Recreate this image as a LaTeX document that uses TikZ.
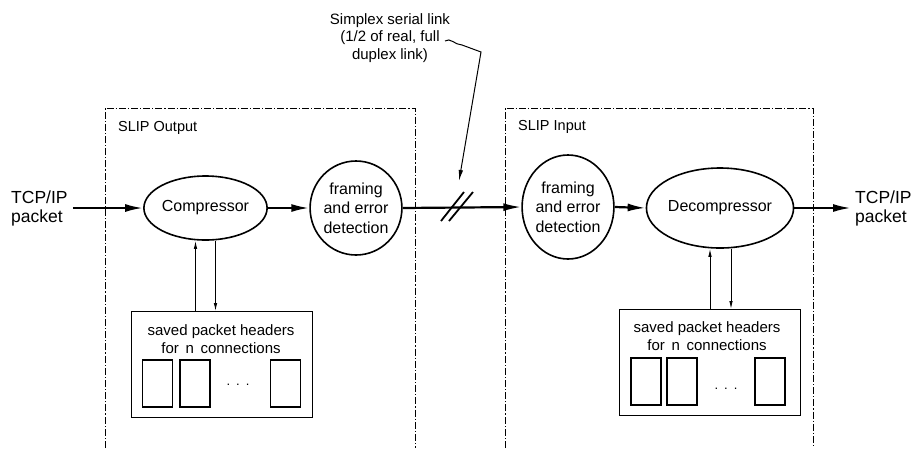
\documentclass[tikz,border=0pt]{standalone}
\usepackage{fontspec}
\setmainfont{Liberation Sans}
\usetikzlibrary{shapes.geometric,arrows.meta}

\begin{document}
\begin{tikzpicture}[x=1pt,y=-1pt,
  flow/.style={line width=2.2pt,-{Latex[length=18pt,width=8pt]}},
  thinarrow/.style={line width=0.9pt,-{Latex[length=8pt,width=3.5pt]}},
  proc/.style={ellipse,draw,line width=1.6pt,inner sep=0pt,align=center,
    font=\fontsize{16}{19.5}\selectfont},
  region/.style={line width=0.9pt,dash pattern=on 7pt off 2pt on 1.2pt off 2pt},
  regionlabel/.style={anchor=west,inner sep=0pt,font=\fontsize{14.5}{17}\selectfont},
  endpoint/.style={anchor=west,inner sep=0pt,align=left,font=\fontsize{17.5}{19}\selectfont},
  table/.style={draw,line width=1.4pt,minimum width=181pt,minimum height=106pt,
    inner sep=0pt,anchor=north west},
  tabletext/.style={align=center,inner sep=0pt,font=\fontsize{15}{18}\selectfont},
  slot/.style={draw,line width=1.3pt,minimum width=30pt,minimum height=47pt,inner sep=0pt},
  slotdots/.style={inner sep=0pt,font=\fontsize{13}{13}\selectfont}
]
\useasboundingbox (0,0) rectangle (912,448);

% sender and receiver regions (open at the bottom)
\draw[region] (105,448) -- (105,108) -- (415,108) -- (415,448);
\draw[region] (505,448) -- (505,108) -- (813,108) -- (813,448);
\node[regionlabel] (outlabel) at (118,128) {SLIP Output};
\node[regionlabel] (inlabel) at (518,127) {SLIP Input};

% processing stages
\node[proc,minimum width=115pt,minimum height=64pt] (comp) at (205.5,208) {Compressor};
\node[proc,minimum width=86pt,minimum height=94pt] (fr1) at (356,208) {framing\\and error\\detection};
\node[proc,minimum width=88pt,minimum height=104pt] (fr2) at (568,207) {framing\\and error\\detection};
\node[proc,minimum width=116pt,minimum height=80pt] (decomp) at (720,208) {Decompressor};

% end points of the data path
\node[endpoint] (inL) at (11,208) {TCP/IP\\packet};
\node[endpoint] (outR) at (855,208) {TCP/IP\\packet};

% data path
\draw[flow] ([xshift=5pt]inL.east) -- (comp.west);
\draw[flow] (comp.east) -- (fr1.west);
\draw[flow] (fr1.east) -- (fr2.west);
\draw[flow] (fr2.east) -- (decomp.west);
\draw[flow] (decomp.east) -- ([xshift=-4pt]outR.west);

% break marks on the serial line
\draw[line width=1.8pt] (441,221) -- (464,192);
\draw[line width=1.8pt] (449,221) -- (473,192);

% callout for the serial link
\node[align=center,inner sep=0pt,font=\fontsize{15}{17.5}\selectfont] (cap) at (390,38)
  {Simplex serial link\\(1/2 of real, full\\duplex link)};
\coordinate (leadstart) at (445,41);
\coordinate (leadtip) at (459,181);
\draw[line width=1pt,-{Latex[length=11pt,width=4.5pt]}]
  (leadstart) .. controls (450,37) and (455,45) .. (462,45) -- (481,52) -- (leadtip);

% saved header tables
\node[table] (hdrL) at (131,311) {};
\node[tabletext] (hdrLtxt) at (221,339) {saved packet headers\\for \,n\, connections};
\node[slot] (sL1) at (157.5,383.5) {};
\node[slot] (sL2) at (195,383.5) {};
\node[slot] (sL3) at (285.5,383.5) {};
\node[slotdots] (dL) at (238,385) {.\hspace{6pt}.\hspace{6pt}.};

\node[table] (hdrR) at (619,309) {};
\node[tabletext] (hdrRtxt) at (707,336) {saved packet headers\\for \,n\, connections};
\node[slot] (sR1) at (646,381.5) {};
\node[slot] (sR2) at (682,381.5) {};
\node[slot] (sR3) at (770,381.5) {};
\node[slotdots] (dR) at (726,389) {.\hspace{6pt}.\hspace{6pt}.};

% table lookups and updates
\coordinate (cu) at ([xshift=-10pt]comp.south);
\coordinate (cd) at ([xshift=10pt]comp.south);
\draw[thinarrow] (cu |- hdrL.north) -- (cu);
\draw[thinarrow] (cd) -- (cd |- hdrL.north);

\coordinate (du) at ([xshift=-10pt]decomp.south);
\coordinate (dd) at ([xshift=11pt]decomp.south);
\draw[thinarrow] (du |- hdrR.north) -- (du);
\draw[thinarrow] (dd) -- (dd |- hdrR.north);
\end{tikzpicture}
\end{document}
